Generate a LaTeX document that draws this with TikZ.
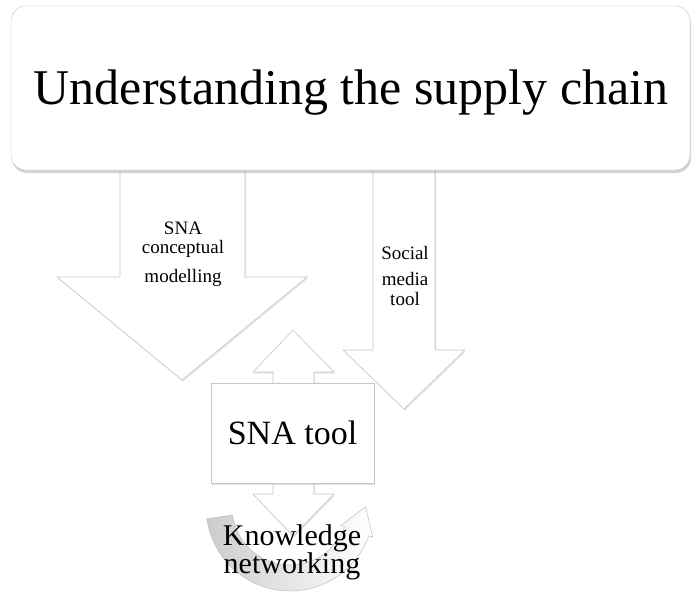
\documentclass[tikz,border=0pt]{standalone}
\usepackage{fontspec}
\setmainfont{Liberation Serif}
\usetikzlibrary{calc,shadows}
\tikzset{
    banner/.style={
        rectangle,
        rounded corners=15pt,
        draw=gray!45,
        fill=white,
        drop shadow={opacity=0.35,shadow xshift=1pt,shadow yshift=-3pt},
        minimum width=679pt,
        minimum height=164pt,
        inner sep=0pt,
        font=\fontsize{50}{50}\selectfont
    },
    block/.style={
        draw=gray!45,
        fill=white,
        line width=0.6pt,
        drop shadow={opacity=0.2,shadow xshift=1pt,shadow yshift=-1.5pt}
    },
    toolbox/.style={
        block,
        rectangle,
        minimum width=163pt,
        minimum height=100pt,
        inner sep=0pt,
        font=\fontsize{34}{34}\selectfont
    },
    smalltext/.style={
        anchor=base,
        inner sep=0pt,
        font=\fontsize{19}{19}\selectfont
    }
}

\begin{document}
\begin{tikzpicture}[x=1pt,y=-1pt]
\useasboundingbox (0,0) rectangle (692,591);
\clip (0,0) rectangle (692,591);

% the two arrows coming down from the banner
\draw[block] (120,165) -- (120,277) -- (57,277) -- (182,380) -- (307,277) -- (245,277) -- (245,165) -- cycle;
\draw[block] (373,165) -- (373,350) -- (343,350) -- (404,409) -- (465,350) -- (435,350) -- (435,165) -- cycle;

% round arrow under the tool
\coordinate (hub) at (290,507);
\path[left color=gray!40,right color=white,draw=gray!50,line width=0.5pt]
  ($(hub)+(172:84)$) arc[start angle=172,end angle=20,radius=84]
  -- ($(hub)+(20:88)$) -- ($(hub)+(20:71)+(-70:26)$) -- ($(hub)+(20:54)$)
  -- ($(hub)+(20:58)$) arc[start angle=20,end angle=172,radius=58] -- cycle;

% up/down arrow through the tool
\draw[block] (293,330) -- (334,372) -- (314,372) -- (314,494) -- (334,494) -- (293,536)
  -- (253,494) -- (273,494) -- (273,372) -- (253,372) -- cycle;
\node[toolbox] (tool) at (292.5,433) {SNA tool};

\node[banner] (chain) at (350.5,88) {};
\node[font=\fontsize{50}{50}\selectfont,anchor=base] (chaintext) at (351,104) {Understanding the supply chain};

\node[smalltext] (sna1) at (183,234) {SNA};
\node[smalltext] (sna2) at (183,253) {conceptual};
\node[smalltext] (sna3) at (183,282) {modelling};
\node[smalltext] (soc1) at (405,259) {Social};
\node[smalltext] (soc2) at (405,285) {media};
\node[smalltext] (soc3) at (405,305) {tool};

\node[align=center,inner sep=0pt,font=\fontsize{30}{28}\selectfont] (know) at (292,552) {Knowledge\\networking};
\end{tikzpicture}
\end{document}
